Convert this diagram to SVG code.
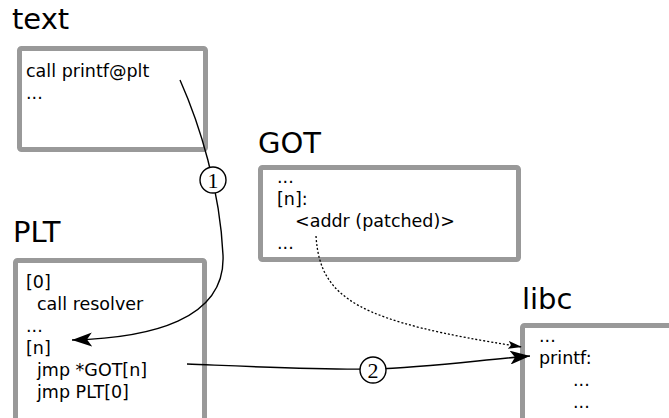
<svg xmlns="http://www.w3.org/2000/svg" width="669" height="418" viewBox="0 0 669 418">
<style>
.box{fill:#fff;stroke:#999;stroke-width:5;}
.title{font-family:"DejaVu Sans",sans-serif;font-size:29px;fill:#000;}
.t{font-family:"DejaVu Sans",sans-serif;font-size:17.5px;fill:#000;}
.conn{fill:none;stroke:#000;stroke-width:1.4;}
.dot{fill:none;stroke:#000;stroke-width:1.3;stroke-dasharray:2 2;}
.num{fill:#fff;stroke:#000;stroke-width:1.4;}
.numt{font-family:"Liberation Serif",serif;font-size:22px;fill:#000;text-anchor:middle;}
</style>
<defs>
<marker id="arr" viewBox="0 0 20 14" refX="20" refY="7" markerWidth="20" markerHeight="14" markerUnits="userSpaceOnUse" orient="auto">
<path d="M0,0 L20,7 L0,14 L5,7 z" fill="#000"/>
</marker>
<marker id="arrs" viewBox="0 0 14 8" refX="14" refY="4" markerWidth="14" markerHeight="8" markerUnits="userSpaceOnUse" orient="auto">
<path d="M0,0 L14,4 L0,8 L3,4 z" fill="#000"/>
</marker>
</defs>
<g id="node-text">
<text class="title" x="12" y="29">text</text>
<rect class="box" x="19.5" y="48.5" width="186" height="101" rx="2"/>
<text class="t" x="26" y="77">call printf@plt</text>
<text class="t" x="26" y="99">...</text>
</g>
<g id="node-got">
<text class="title" x="258" y="153">GOT</text>
<rect class="box" x="260.5" y="167.5" width="258" height="92" rx="2"/>
<text class="t" x="277" y="183">...</text>
<text class="t" x="277" y="205">[n]:</text>
<text class="t" x="295" y="227">&lt;addr (patched)&gt;</text>
<text class="t" x="277" y="249">...</text>
</g>
<g id="node-plt">
<text class="title" x="13" y="242">PLT</text>
<rect class="box" x="15.5" y="260.5" width="189" height="200" rx="2"/>
<text class="t" x="26" y="288">[0]</text>
<text class="t" x="37" y="310">call resolver</text>
<text class="t" x="26" y="332">...</text>
<text class="t" x="26" y="354">[n]</text>
<text class="t" x="37" y="376">jmp *GOT[n]</text>
<text class="t" x="37" y="398">jmp PLT[0]</text>
</g>
<g id="node-libc">
<text class="title" x="522" y="309">libc</text>
<rect class="box" x="522.5" y="325.5" width="200" height="150" rx="2"/>
<text class="t" x="539" y="342">...</text>
<text class="t" x="539" y="364">printf:</text>
<text class="t" x="573" y="386">...</text>
<text class="t" x="573" y="408">...</text>
</g>
<g id="connectors">
<path class="conn" d="M180,80 C200,125 220,190 223,255 C226,320 150,338 72,340" marker-end="url(#arr)"/>
<path class="conn" d="M187,364 C260,367 320,370 373,369 S480,360 530,356" marker-end="url(#arr)"/>
<path class="dot" d="M316,236 C320,300 360,322 522,347" marker-end="url(#arrs)"/>
<circle class="num" cx="213" cy="180" r="13"/>
<text class="numt" x="213" y="188">1</text>
<circle class="num" cx="373" cy="370" r="13"/>
<text class="numt" x="373" y="378">2</text>
</g>
</svg>
